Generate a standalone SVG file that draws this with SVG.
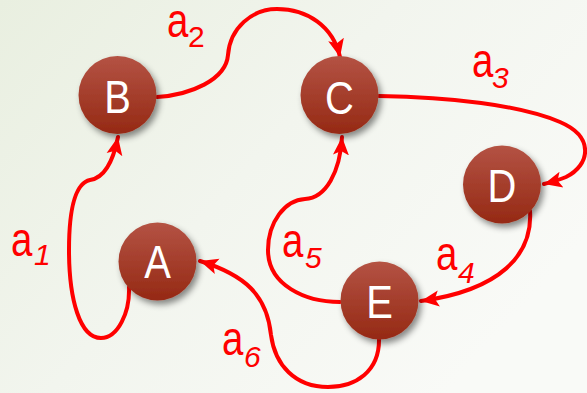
<svg xmlns="http://www.w3.org/2000/svg" width="587" height="393" viewBox="0 0 587 393">
<defs>
<linearGradient id="bg" x1="0" y1="0" x2="1" y2="0.6">
<stop offset="0" stop-color="#e9efe0"/>
<stop offset="0.5" stop-color="#f2f5ee"/>
<stop offset="1" stop-color="#f9faf7"/>
</linearGradient>
<linearGradient id="nodeFill" x1="0" y1="0" x2="0" y2="1">
<stop offset="0" stop-color="#b45344"/>
<stop offset="1" stop-color="#952914"/>
</linearGradient>
<filter id="shadow" x="-30%" y="-30%" width="170%" height="170%">
<feDropShadow dx="3" dy="4" stdDeviation="3" flood-color="#000" flood-opacity="0.45"/>
</filter>
<marker id="arrow" markerUnits="userSpaceOnUse" markerWidth="20" markerHeight="20" viewBox="0 0 20 20" refX="18" refY="10" orient="auto">
<path d="M0,2 L18,10 L0,18 L4,10 Z" fill="#ff0000"/>
</marker>
<style>
.node circle { fill: url(#nodeFill); filter: url(#shadow); }
.node text { font-family: "Liberation Sans", Arial, sans-serif; font-size: 47px; fill: #ffffff; text-anchor: middle; }
.edge { fill: none; stroke: #ff0000; stroke-width: 4; stroke-linecap: round; }
.arr { marker-end: url(#arrow); }
.lbl { font-family: "Liberation Sans", Arial, sans-serif; font-size: 48px; fill: #ff0000; }
.sub { font-family: "Liberation Sans", Arial, sans-serif; font-size: 30px; font-style: italic; fill: #ff0000; }
</style>
</defs>
<rect x="0" y="0" width="587" height="393" fill="url(#bg)"/>

<g id="connectors">
<path class="edge arr" d="M129,287 C130,312 118,338 101,338 C80,338 69,300 69,250 C69,205 76,183 90,180 C104,178 113,162 118,137"/>
<path class="edge arr" d="M157,97 C190,95 226,80 228,55 C230,28 252,9 277,9 C307,9 333,26 340,57"/>
<path class="edge arr" d="M379,96 C450,97 520,105 560,122 C595,137 590,165 566,177 C559,180 552,182 544,184"/>
<path class="edge arr" d="M530,211 C533,255 500,290 421,301"/>
<path class="edge arr" d="M340,302 C305,302 268,285 268,250 C268,222 285,200 305,199 C326,198 340,172 342,137"/>
<path class="edge arr" d="M379,338 C380,372 355,387 328,387 C295,387 275,365 271,335 C267,295 245,275 200,261"/>
</g>

<g id="labels">
<g transform="translate(11,256) scale(0.8,1)"><text class="lbl" x="0" y="0">a</text></g>
<text class="sub" x="34" y="265">1</text>
<g transform="translate(167,37) scale(0.8,1)"><text class="lbl" x="0" y="0">a</text></g>
<text class="sub" x="188" y="47" style="font-style:normal">2</text>
<g transform="translate(472,77) scale(0.8,1)"><text class="lbl" x="0" y="0">a</text></g>
<text class="sub" x="492" y="88">3</text>
<g transform="translate(436,270) scale(0.8,1)"><text class="lbl" x="0" y="0">a</text></g>
<text class="sub" x="458" y="283">4</text>
<g transform="translate(282,257) scale(0.8,1)"><text class="lbl" x="0" y="0">a</text></g>
<text class="sub" x="305" y="268">5</text>
<g transform="translate(222,355) scale(0.8,1)"><text class="lbl" x="0" y="0">a</text></g>
<text class="sub" x="244" y="367">6</text>
</g>

<g id="node-A" class="node"><circle cx="157.5" cy="261.5" r="39"/><g transform="translate(157.5,278) scale(0.85,1)"><text x="0" y="0">A</text></g></g>
<g id="node-B" class="node"><circle cx="117.5" cy="95" r="39"/><g transform="translate(117.5,113) scale(0.85,1)"><text x="0" y="0">B</text></g></g>
<g id="node-C" class="node"><circle cx="339.5" cy="95" r="39"/><g transform="translate(339.5,114) scale(0.85,1)"><text x="0" y="0">C</text></g></g>
<g id="node-D" class="node"><circle cx="502" cy="184.5" r="39"/><g transform="translate(502,202) scale(0.85,1)"><text x="0" y="0">D</text></g></g>
<g id="node-E" class="node"><circle cx="379.5" cy="300.5" r="39"/><g transform="translate(379.5,318) scale(0.85,1)"><text x="0" y="0">E</text></g></g>
</svg>
